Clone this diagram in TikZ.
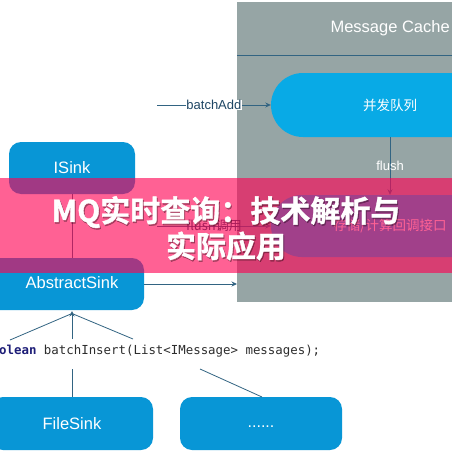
\documentclass[tikz,border=0pt]{standalone}
\usepackage{fontspec}
\setmainfont{Liberation Sans}
\newfontfamily\cjk{Noto Sans CJK SC}
\newfontfamily\cjkbold{Noto Sans CJK SC}[UprightFont=* Bold,FakeBold=1.2]
\newfontfamily\codefont{DejaVu Sans Mono}
\usetikzlibrary{arrows.meta,shapes.misc}
\definecolor{panelgray}{RGB}{150,165,165}
\definecolor{boxblue}{RGB}{8,150,214}
\definecolor{qblue}{RGB}{8,170,230}
\definecolor{lineblue}{RGB}{50,100,130}
\definecolor{labelblue}{RGB}{30,70,100}
\definecolor{navy}{RGB}{30,30,120}
\definecolor{codegray}{RGB}{45,45,45}
\definecolor{bandpink}{RGB}{255,0,83}
\tikzset{
  x=1pt,y=-1pt,
  sinkbox/.style={draw=none,fill=boxblue,rounded corners=12pt,text=white,font=\fontsize{16.5}{18}\selectfont,inner sep=0pt},
  stadium/.style={draw=none,fill=qblue,rounded rectangle,text=white,font=\cjk\fontsize{13.5}{15}\selectfont,inner sep=0pt},
  conn/.style={draw=lineblue,line width=0.8pt},
  arr/.style={conn,-{Stealth[length=5.5pt,width=5pt]}},
  lbl/.style={font=\fontsize{13}{15}\selectfont,inner sep=0.5pt,text=labelblue},
}
\begin{document}
\begin{tikzpicture}
\useasboundingbox (0,0) rectangle (452,452);
\clip (0,0) rectangle (452,452);
\fill[white] (0,0) rectangle (452,452);
% panel
\node[draw=none,fill=panelgray,minimum width=260pt,minimum height=300pt,inner sep=0pt,anchor=north west] (panel) at (237,2) {};
\coordinate (hl) at (237,55);
\draw[lineblue,line width=0.9pt] (hl) -- (hl -| panel.east);
\node[text=white,font=\fontsize{16.5}{18}\selectfont,anchor=west] (mc) at (327,28) {Message Cache};
% stadiums
\node[stadium,minimum width=238pt,minimum height=64pt] (queue) at (390,105) {并发队列};
\node[stadium,minimum width=238pt,minimum height=62pt] (cb) at (390,226) {存储/计算回调接口};
% sink boxes
\node[sinkbox,minimum width=126pt,minimum height=52pt] (isink) at (72,168) {ISink};
\node[sinkbox,minimum width=160pt,minimum height=52pt] (abs) at (64,284) {};
\node[text=white,font=\fontsize{16.5}{18}\selectfont] (absl) at (72,283) {AbstractSink};
\node[sinkbox,minimum width=162pt,minimum height=53pt] (file) at (72,423.5) {FileSink};
\node[sinkbox,minimum width=162pt,minimum height=53pt] (dots) at (261,423.5) {};
\node[text=white,font=\fontsize{16}{18}\selectfont] (dotsl) at (261,427) {......};
% code
\node[anchor=west,inner sep=0pt,font=\codefont\fontsize{12.4}{14}\selectfont] (code) at (-1,351) {\textcolor{navy}{\bfseries olean} \textcolor{codegray}{batchInsert(List<IMessage> messages);}};
% connectors
\coordinate (ba) at (157,105);
\draw[arr] (ba) -- node[lbl,fill=white,pos=0.5]{batchAdd} (queue.west);
\coordinate (fc) at (157,226);
\draw[arr] (fc) -- node[lbl,pos=0.5]{\cjk flush调用} (cb.west);
\draw[arr] (queue.south) -- node[lbl,text=white,pos=0.5]{flush} (cb.north);
\coordinate (abe) at (144,284);
\draw[arr] (abe) -- (abe -| panel.west);
\draw[conn] (isink.south) -- (72,258);
\coordinate (tip) at (72,311);
\coordinate (c1) at (10,340);
\coordinate (c2) at (72,339);
\coordinate (c3) at (133,339);
\draw[conn] (c1) -- (72,313.5);
\draw[conn] (c3) -- (72,313.5);
\draw[arr] (c2) -- (tip);
\coordinate (d1) at (72,369);
\coordinate (d2) at (200,369);
\draw[conn] (d1) -- (file.north);
\draw[conn] (d2) -- (262,397);
% pink band
\fill[bandpink,opacity=0.62] (0,178) rectangle (452,273);
% title
\begin{scope}[font=\cjkbold\fontsize{30}{34}\selectfont]
\node[text=black,opacity=0.3] at (227,213.5) {MQ实时查询：技术解析与};
\node[text=black,opacity=0.3] at (227,247.5) {实际应用};
\node[text=white] (t1) at (226,212) {MQ实时查询：技术解析与};
\node[text=white] (t2) at (226,246) {实际应用};
\end{scope}
\end{tikzpicture}
\end{document}
